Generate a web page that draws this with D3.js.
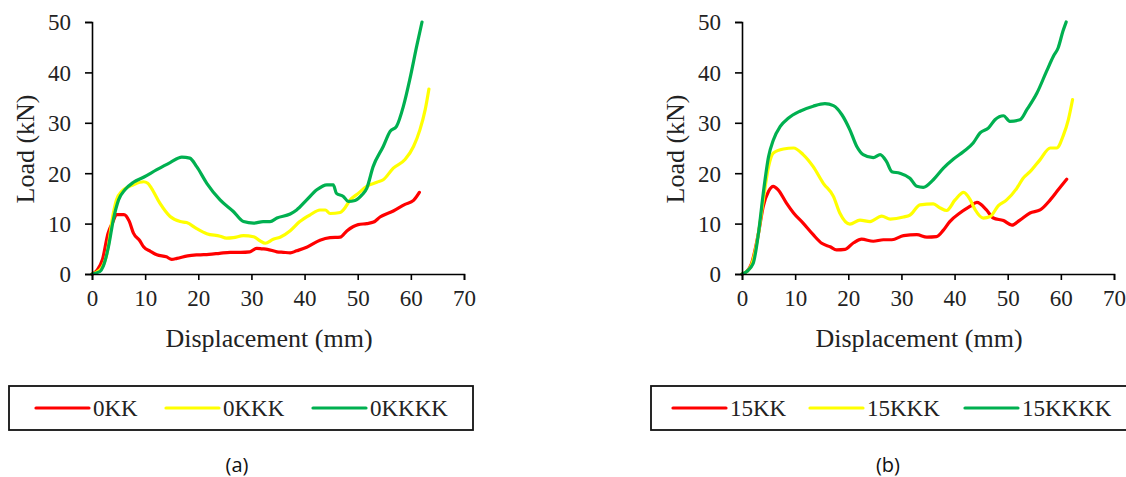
<!DOCTYPE html>
<html>
<head>
<meta charset="utf-8">
<script src="https://cdn.jsdelivr.net/npm/d3@7"></script>
<style>
  body { margin: 0; background: #fff; }
  svg { display: block; }
</style>
</head>
<body>
<svg id="chart" width="1126" height="477"></svg>
<script>
// Ticks
const xTicks = [0, 10, 20, 30, 40, 50, 60, 70];
const yTicks = [0, 10, 20, 30, 40, 50];

// Panel (a) - series as [displacement mm, load kN]
const a0KK = [[0,0],[1,0.8],[2,3],[3,8],[4,10.5],[4.6,11.8],[6,11.8],[7,10.5],[7.8,8.1],[9,6.6],[9.7,5.4],[11,4.5],[12.2,3.8],[14,3.4],[15,2.9],[16,3.1],[18,3.6],[20,3.8],[22,3.9],[24,4.1],[26,4.3],[28,4.3],[29.7,4.4],[31,5.1],[32,5],[33,4.9],[34.8,4.4],[36,4.3],[37.3,4.2],[38.5,4.6],[40.4,5.3],[42.9,6.7],[44.8,7.2],[46.7,7.3],[48,8.6],[50.1,9.8],[51.7,10],[53,10.3],[54.2,11.3],[56.7,12.5],[58.9,13.8],[60.5,14.6],[61.6,16.2]];
const a0KKK = [[0,0],[1.5,0.8],[2.8,4],[4,12],[4.6,14.7],[5.6,16.4],[7.8,17.7],[9.7,18.3],[10.5,18],[11.2,17],[12.8,14],[14.7,11.4],[16.6,10.4],[17.8,10.2],[19.7,9],[21.6,8],[24.1,7.5],[25.3,7.1],[26.6,7.2],[28.5,7.6],[30.4,7.4],[31.6,6.6],[32.6,6.1],[34.1,6.9],[35.4,7.3],[37.3,8.6],[39.1,10.4],[41,11.7],[42.9,12.7],[43.9,12.7],[44.8,12],[46.7,12.2],[47.3,12.7],[48.6,14.7],[50.1,16],[51.7,17.4],[53.6,18.2],[54.8,18.7],[56.7,21],[58.9,22.7],[60.5,25.3],[61.7,28.6],[62.7,32.6],[63.4,36.7]];
const a0KKKK = [[0,0],[1.5,0.5],[2.1,1.5],[3.1,5.4],[4,10.7],[5,14.7],[6.2,16.7],[7.8,18.2],[9.7,19.2],[12.2,20.7],[14.7,22.1],[16.9,23.2],[18.4,23],[19.7,21.3],[21.6,18],[24.1,14.7],[26.6,12.4],[28.5,10.4],[30.4,10.1],[32.2,10.4],[33.5,10.4],[34.8,11.1],[37.3,11.9],[38.5,12.7],[40.4,14.7],[42.3,16.7],[44.2,17.7],[45.4,17.7],[46,16],[47.3,15.4],[48.2,14.4],[49.5,14.6],[50.8,15.7],[51.7,17],[52.9,21.3],[54.8,25.3],[56.1,28.3],[57.3,29.3],[58.6,33.3],[59.8,38.6],[61.1,45.2],[62.1,50]];

// Panel (b)
const b15KK = [[0,0],[0.9,0.5],[1.8,2.1],[3.1,8.1],[4,13.4],[5,16.4],[5.9,17.4],[6.8,16.7],[8.4,14],[9.7,12.1],[11.5,10.1],[13.4,7.8],[15,6.1],[16.6,5.4],[17.8,4.8],[19.4,4.9],[21,6.2],[22.5,6.9],[24.7,6.5],[26.6,6.8],[28.2,6.8],[30.4,7.6],[32.9,7.8],[34.8,7.3],[36.6,7.4],[37.9,8.7],[39.1,10.4],[41,12.1],[42.9,13.4],[44.2,14.2],[46,12.7],[47.3,11.1],[49.2,10.6],[50.8,9.7],[52.3,10.7],[54.2,12.1],[56.1,12.7],[58,14.7],[59.5,16.7],[61.1,18.8]];
const b15KKK = [[0,0],[0.9,0.5],[1.8,1.8],[3.1,8.1],[4,14.7],[5,21.3],[5.9,24],[7.8,24.8],[9.7,25],[11.5,23.7],[13.4,21.3],[15.3,18],[17.2,15.4],[18.4,12.1],[20.3,9.9],[22.2,10.7],[24.1,10.4],[26.3,11.5],[27.9,10.9],[30.4,11.3],[31.6,11.7],[33.5,13.7],[36,13.9],[37.3,13.1],[38.5,12.6],[40.1,14.7],[41.7,16.2],[42.9,14.8],[43.9,12.7],[45.4,11.1],[46.7,11.4],[48.2,13.5],[49.8,14.7],[51.7,17],[52.9,19],[54.2,20.3],[56.1,22.7],[58,25],[59.2,25],[60.5,27.6],[61.4,30.6],[62.2,34.6]];
const b15KKKK = [[0,0],[0.9,0.5],[2.1,2.1],[3.1,8.1],[4,16],[5,23.3],[5.9,26.6],[7.2,29.3],[8.7,30.9],[10.9,32.3],[13.4,33.3],[15.6,33.8],[17.2,33.4],[18.8,31.6],[20.3,28.6],[21.6,25.3],[22.8,23.7],[24.7,23.1],[26,23.7],[27.2,22.3],[28.2,20.3],[29.7,20],[31.6,19],[32.9,17.4],[34.1,17.2],[36,18.7],[37.9,21],[39.8,22.8],[41.7,24.3],[43.5,26],[44.8,28],[46.4,29],[47.6,30.6],[49.2,31.4],[50.4,30.3],[52.3,30.6],[53.6,32.6],[55.5,35.9],[57.3,40.2],[58.6,43.2],[59.5,44.9],[60.4,48.2],[61,50]];

const seriesColors = ['#ff0000', '#ffff00', '#00b050'];
const serif = '"Liberation Serif", "Times New Roman", serif';

const panels = [
    { left: 92, right: 464, top: 22, bottom: 274, caption: '(a)', captionX: 237,
      series: [a0KK, a0KKK, a0KKKK], names: ['0KK', '0KKK', '0KKKK'],
      legend: { x: 9, w: 464, lines: [36, 166, 313] } },
    { left: 742, right: 1114, top: 22, bottom: 274, caption: '(b)', captionX: 888,
      series: [b15KK, b15KKK, b15KKKK], names: ['15KK', '15KKK', '15KKKK'],
      legend: { x: 651, w: 480, lines: [673, 810, 965] } }
];

const svg = d3.select('#chart');

panels.forEach(p => {
    const xScale = d3.scaleLinear().domain([0, 70]).range([p.left, p.right]);
    const yScale = d3.scaleLinear().domain([0, 50]).range([p.bottom, p.top]);

    const g = svg.append('g');

    // Curves
    const line = d3.line()
        .x(d => xScale(d[0]))
        .y(d => yScale(d[1]))
        .curve(d3.curveMonotoneX);

    p.series.forEach((s, i) => {
        g.append('path')
            .datum(s)
            .attr('d', line)
            .attr('fill', 'none')
            .attr('stroke', seriesColors[i])
            .attr('stroke-width', 3.2)
            .attr('stroke-linejoin', 'round')
            .attr('stroke-linecap', 'round');
    });

    // Axes
    const xAxis = d3.axisBottom(xScale).tickValues(xTicks).tickSizeOuter(0).tickSize(6).tickPadding(10);
    const xAxisGroup = g.append('g')
        .attr('transform', `translate(0, ${p.bottom})`)
        .call(xAxis);
    const yAxis = d3.axisLeft(yScale).tickValues(yTicks).tickSizeOuter(0).tickSize(7).tickPadding(14);
    const yAxisGroup = g.append('g')
        .attr('transform', `translate(${p.left}, 0)`)
        .call(yAxis);

    [xAxisGroup, yAxisGroup].forEach(ax => {
        ax.attr('font-family', null).attr('font-size', null);
        ax.selectAll('path, line').attr('stroke', '#000').attr('stroke-width', 1.6);
        ax.selectAll('text')
            .style('font-family', serif)
            .style('font-size', '23px')
            .attr('fill', '#222');
    });
    xAxisGroup.selectAll('text').attr('dy', '0.71em');
    yAxisGroup.selectAll('text').attr('dy', '0.34em');

    // Axis titles
    g.append('text')
        .attr('x', (p.left + p.right) / 2 - 9)
        .attr('y', 347)
        .attr('text-anchor', 'middle')
        .style('font-family', serif)
        .style('font-size', '26px')
        .attr('fill', '#222')
        .text('Displacement (mm)');
    g.append('text')
        .attr('transform', `translate(${p.left - 58}, ${(p.top + p.bottom) / 2 + 1}) rotate(-90)`)
        .attr('text-anchor', 'middle')
        .style('font-family', serif)
        .style('font-size', '26px')
        .attr('fill', '#222')
        .text('Load (kN)');

    // Legend
    const legend = g.append('g');
    legend.append('rect')
        .attr('x', p.legend.x)
        .attr('y', 386)
        .attr('width', p.legend.w)
        .attr('height', 44)
        .attr('fill', '#fff')
        .attr('stroke', '#111')
        .attr('stroke-width', 1.8);
    legend.selectAll('line')
        .data(p.names)
        .join('line')
        .attr('x1', (d, i) => p.legend.lines[i])
        .attr('x2', (d, i) => p.legend.lines[i] + 53)
        .attr('y1', 408)
        .attr('y2', 408)
        .attr('stroke', (d, i) => seriesColors[i])
        .attr('stroke-width', 3.2)
        .attr('stroke-linecap', 'round');
    legend.selectAll('text')
        .data(p.names)
        .join('text')
        .attr('x', (d, i) => p.legend.lines[i] + 57)
        .attr('y', 416)
        .style('font-family', serif)
        .style('font-size', '23px')
        .attr('fill', '#222')
        .text(d => d);

    // Caption
    g.append('text')
        .attr('x', p.captionX)
        .attr('y', 472)
        .attr('text-anchor', 'middle')
        .style('font-family', '"Open Sans", sans-serif')
        .style('font-size', '20px')
        .attr('fill', '#111')
        .text(p.caption);
});
</script>
</body>
</html>
